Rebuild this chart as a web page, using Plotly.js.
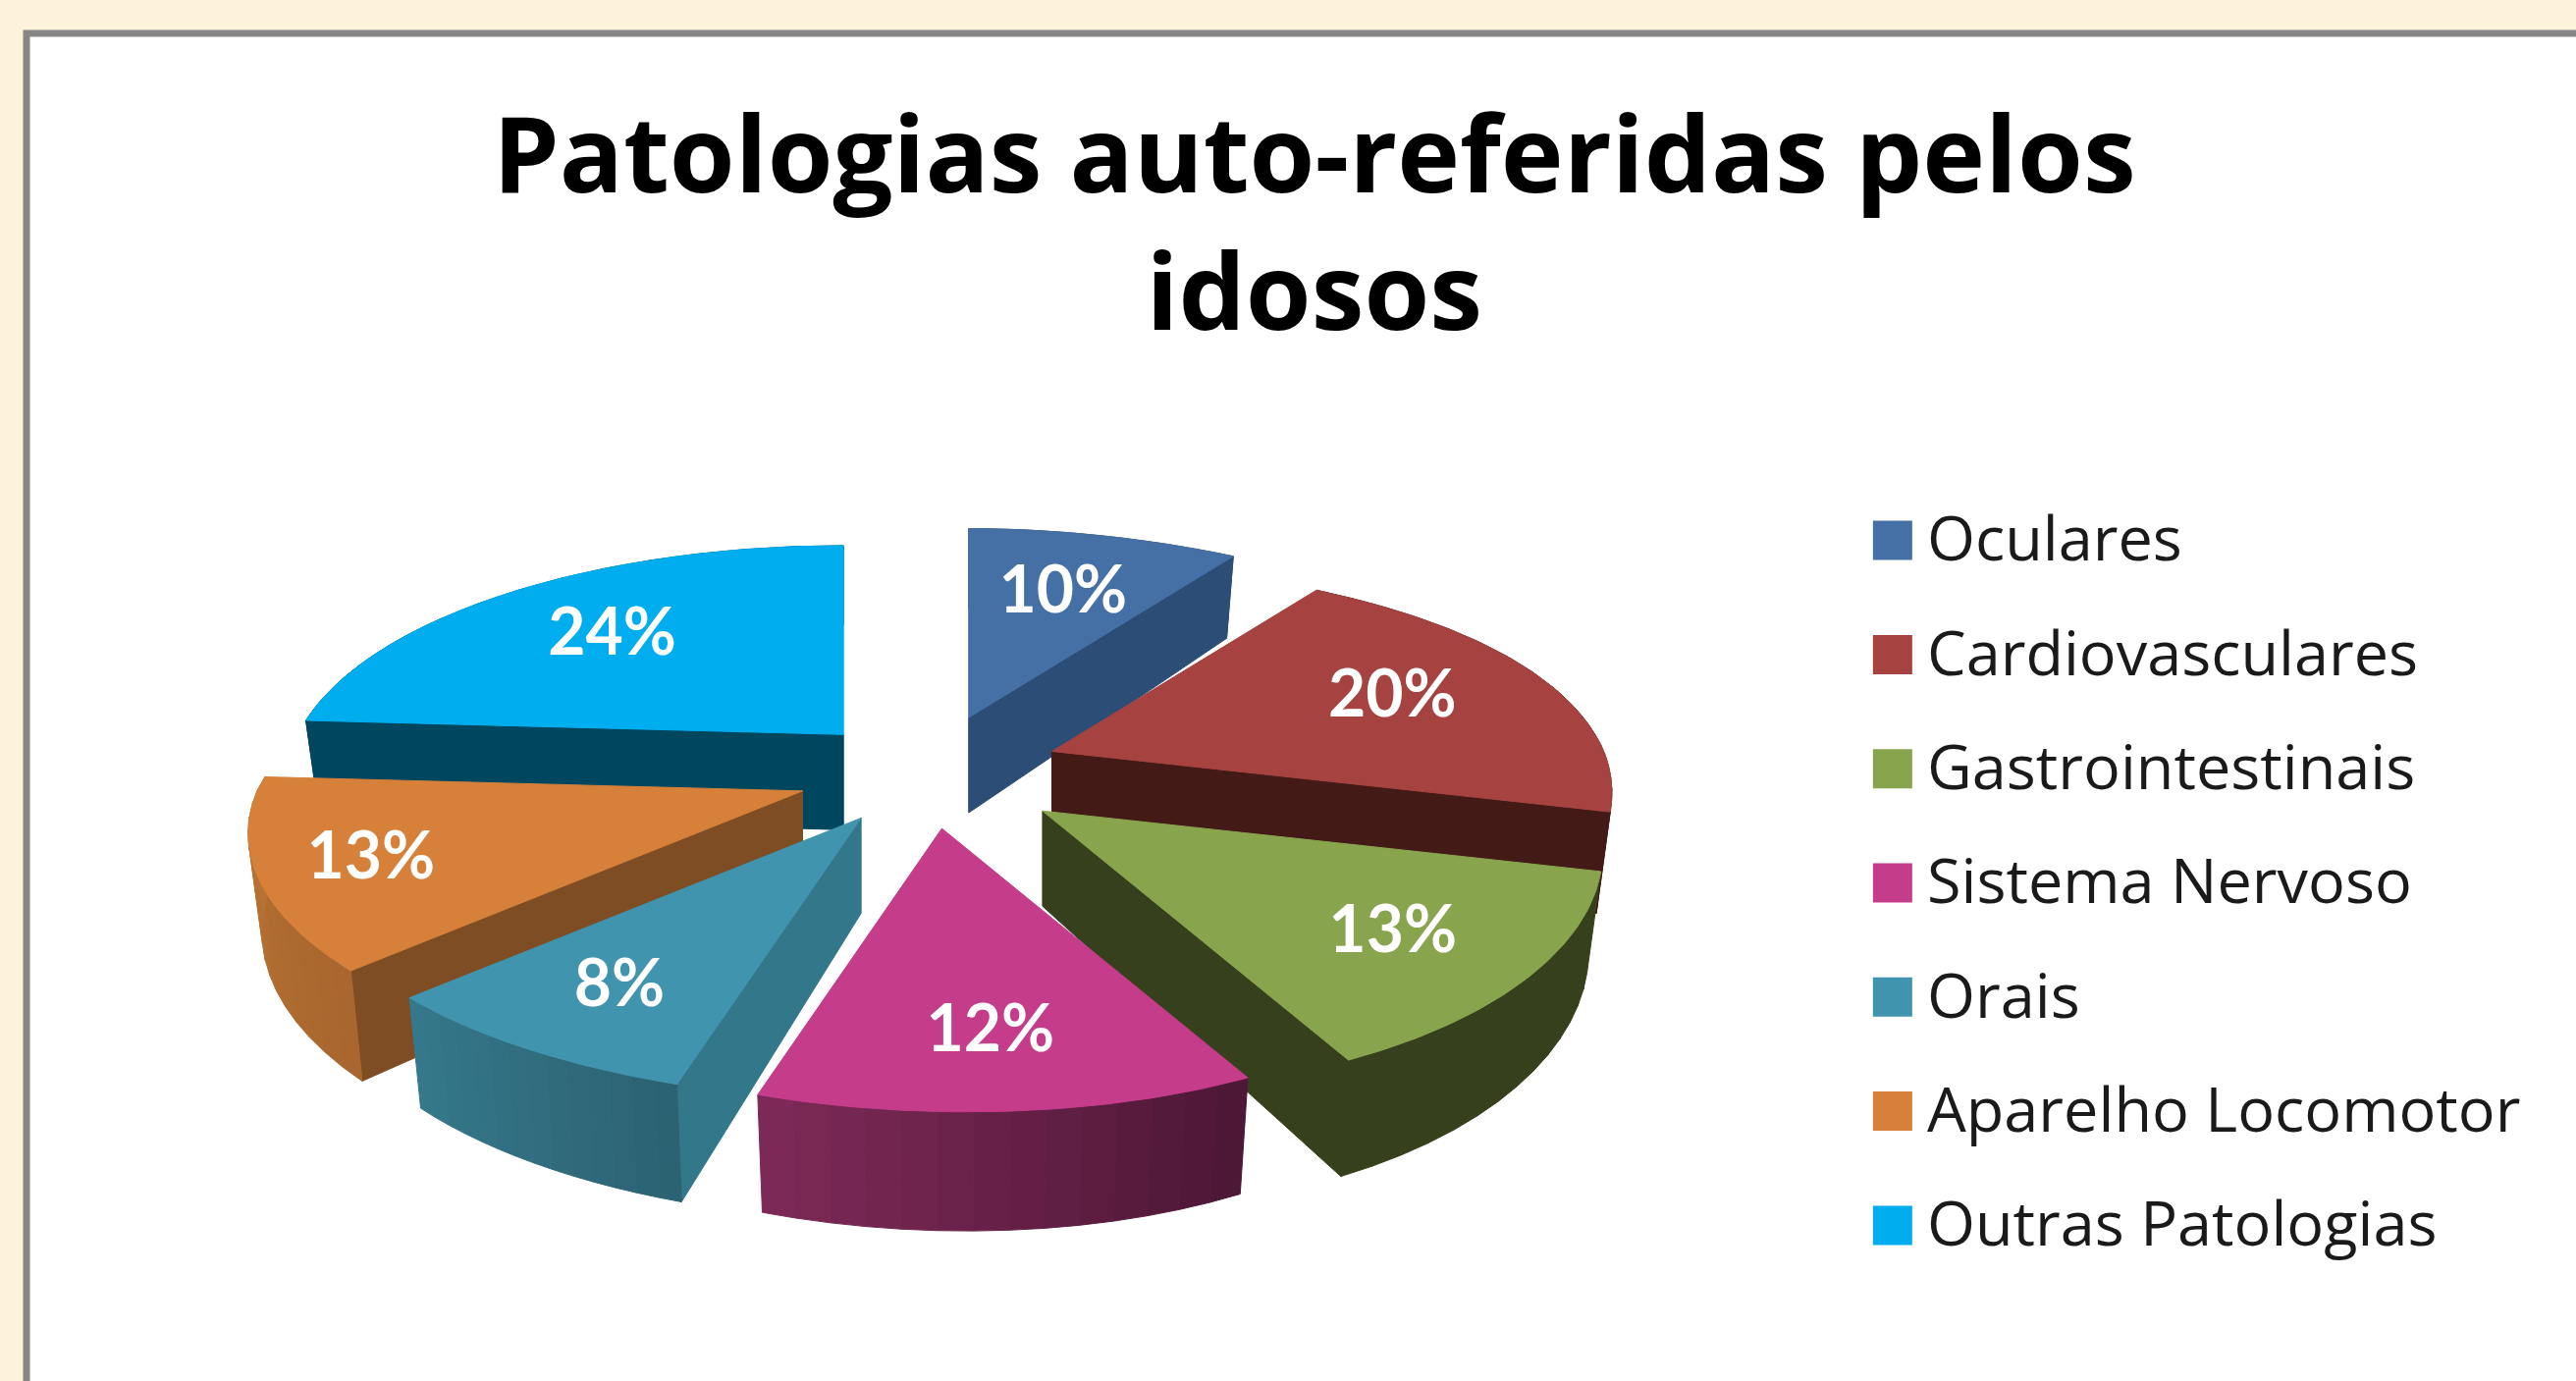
<!DOCTYPE html>
<html><head><meta charset="utf-8">
<script src="https://cdn.plot.ly/plotly-3.0.1.min.js"></script>
<style>html,body{margin:0;padding:0;background:#fdf2da}</style></head>
<body><div id="chart" style="width:2624px;height:1407px"></div>
<script>
const categories = ["Oculares","Cardiovasculares","Gastrointestinais","Sistema Nervoso","Orais","Aparelho Locomotor","Outras Patologias"];
const values = [10,20,13,12,8,13,24];
const pulls = [0.30,0.258,0.235,0.20,0.20,0.23,0.26];
const labelRadius = [0.70,0.71,0.72,0.71,0.72,0.79,0.71];
const topColors = ["#4570a6","#a64340","#88a44d","#c43c8a","#4094ae","#d68039","#00aeef"];
const wallColors = ["#2c4d75","#441a17","#37401c","#7f2a58","#33778a","#7f4d23","#00465f"];
const rimFrom = ["#2c4d75","#441a17","#37401c","#4b1635","#2c6272","#a8662f","#00465f"];
const rimTo = ["#2c4d75","#441a17","#37401c","#7f2a58","#35798c","#bb7433","#00465f"];
const drawOrder = [0,6,1,2,5,4,3];

const W=2624,H=1407,S=W/1568;
const CX=565*S,CY=470*S,A=332*S,B=138*S,K=0.2,DEPTH=58*S,SHRINK=0.975;
const proj=t=>{const r=t*Math.PI/180,d=1+K*Math.cos(r),s=Math.sin(r);
  let x=A*s/d,y=-B*Math.cos(r)/d;
  if(s>0)y-=10*S*s*s*s;
  const c=0.09-0.04*Math.min(1,Math.max(0,(t-198)/28));
  if(y>0)x+=c*y; else if(x>0)x+=0.12*y*s;
  return [x,y,d];};
const total=values.reduce((a,b)=>a+b,0);
const hex=c=>[1,3,5].map(i=>parseInt(c.substr(i,2),16));
const mix=(c1,c2,f)=>{const a=hex(c1),b=hex(c2);return `rgb(${a.map((v,i)=>Math.round(v+(b[i]-v)*f)).join(",")})`;};
const poly=(pts,color)=>({type:"scatter",mode:"lines",x:[...pts.map(p=>p[0]),pts[0][0]],y:[...pts.map(p=>p[1]),pts[0][1]],
  fill:"toself",fillcolor:color,line:{color:color,width:1},showlegend:false,hoverinfo:"skip"});

let acc=0;const slices=values.map((v,i)=>{const t0=acc/total*360;acc+=v;const t1=acc/total*360;
  const mid=(t0+t1)/2,m=proj(mid);
  return {i,t0,t1,mid,ax:CX+m[0]*pulls[i],ay:CY+m[1]*pulls[i]};});

const traces=[];
const topPt=(s,t)=>{const p=proj(t);return [s.ax+p[0],s.ay+p[1]];};
const botPt=(s,t)=>{const p=proj(t);return [s.ax+p[0]*SHRINK,s.ay+p[1]+DEPTH/p[2]];};
drawOrder.forEach(i=>{const s=slices[i];
  const apexBot=[s.ax,s.ay+DEPTH];
  const wall=t=>traces.push(poly([[s.ax,s.ay],topPt(s,t),botPt(s,t),apexBot],wallColors[i]));
  if(Math.sin(s.t1*Math.PI/180)>0.001)wall(s.t1);
  if(Math.sin(s.t0*Math.PI/180)<-0.001)wall(s.t0);
  const n=14;
  for(let k=0;k<n;k++){
    const a=s.t0+(s.t1-s.t0)*k/n,b=s.t0+(s.t1-s.t0)*(k+1)/n;
    traces.push(poly([topPt(s,a),topPt(s,(a+b)/2),topPt(s,b),botPt(s,b),botPt(s,(a+b)/2),botPt(s,a)],mix(rimFrom[i],rimTo[i],(k+.5)/n)));
  }
  const pts=[[s.ax,s.ay]];
  for(let k=0;k<=60;k++)pts.push(topPt(s,s.t0+(s.t1-s.t0)*k/60));
  traces.push(poly(pts,topColors[i]));
});
// data labels
traces.push({type:"scatter",mode:"text",
  x:slices.map((s,i)=>s.ax+proj(s.mid)[0]*labelRadius[i]),
  y:slices.map((s,i)=>s.ay+proj(s.mid)[1]*labelRadius[i]+6),
  text:values.map(v=>v+"%"),textposition:"middle center",
  textfont:{family:"Lato",size:66,color:"#ffffff",weight:700},showlegend:false,hoverinfo:"skip"});
// legend
const LEG_X=1152*S,LEG_TX=1173*S,LEG_Y0=329*S,LEG_STEP=69.5*S;
categories.forEach((c,i)=>{
  const y=LEG_Y0+i*LEG_STEP;
  traces.push({type:"scatter",mode:"markers",x:[LEG_X],y:[y],name:c,
    marker:{symbol:"square",size:40,color:topColors[i],line:{width:0}},showlegend:false,hoverinfo:"skip"});
  traces.push({type:"scatter",mode:"text",x:[LEG_TX],y:[y+5],text:[c],textposition:"middle right",
    textfont:{family:"Open Sans",size:63,color:"#1a1a1a"},showlegend:false,hoverinfo:"skip"});
});

const layout={width:W,height:H,margin:{l:0,r:0,t:0,b:0},paper_bgcolor:"#fdf2da",plot_bgcolor:"rgba(0,0,0,0)",showlegend:false,
  title:{text:"<b>Patologias auto-referidas pelos<br>idosos</b>",x:800*S/W,xanchor:"center",xref:"paper",y:1-117*S/H,yanchor:"top",yref:"paper",
    font:{family:"Open Sans",size:108,color:"#000000"}},
  xaxis:{range:[0,W],visible:false,fixedrange:true},yaxis:{range:[H,0],visible:false,fixedrange:true},
  shapes:[{type:"rect",xref:"x",yref:"y",x0:27,y0:34,x1:W+20,y1:H+20,fillcolor:"#ffffff",line:{color:"#868686",width:7},layer:"below"}]};
Plotly.newPlot("chart",traces,layout,{displayModeBar:false,staticPlot:true});
</script></body></html>
